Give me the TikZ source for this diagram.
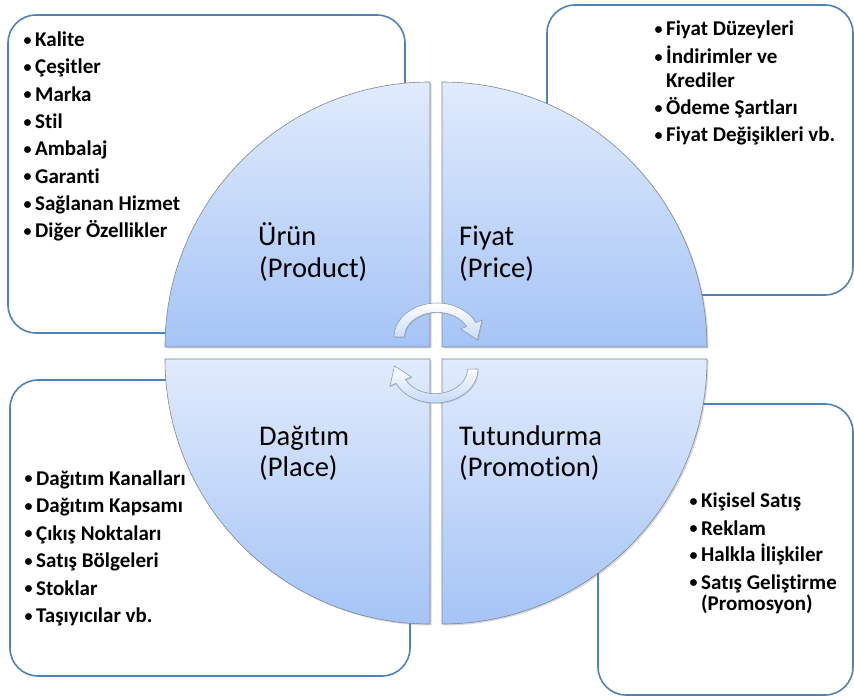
\documentclass[tikz,border=0pt]{standalone}
\usepackage{fontspec}
\setmainfont{Carlito}[Ligatures={NoCommon}]
\usetikzlibrary{shadows}

\definecolor{boxblue}{RGB}{79,129,189}
\definecolor{quadtop}{RGB}{224,235,252}
\definecolor{quadbot}{RGB}{165,196,246}
\definecolor{quadline}{RGB}{125,135,150}
\definecolor{arrowline}{RGB}{140,155,180}
\definecolor{arrowfill}{RGB}{200,218,248}

\newcommand{\itembul}{\raisebox{1.4pt}{\fontsize{16}{16}\selectfont\textbullet}\kern3.5pt}

\begin{document}
\begin{tikzpicture}[x=1pt, y=1pt,
    listbox/.style={draw=boxblue, line width=1.6pt, rounded corners=28pt},
    quad/.style={draw=quadline, line width=0.6pt, top color=quadtop, bottom color=quadbot,
        drop shadow={opacity=0.3, shadow xshift=1.5pt, shadow yshift=-1.5pt}},
    cyc/.style={draw=arrowline, line width=0.6pt, top color=white, bottom color=arrowfill,
        drop shadow={opacity=0.25, shadow xshift=1pt, shadow yshift=-1pt}},
    listitem/.style={anchor=base west, inner sep=0pt, font=\fontsize{21}{25}\selectfont\bfseries},
    pname/.style={anchor=base west, inner sep=0pt, font=\fontsize{28.5}{32}\selectfont}]
    \useasboundingbox (0,0) rectangle (854,697);

    % boxes
    \draw[listbox] (8,682) rectangle (405,364);
    \draw[listbox] (547,692) rectangle (853,402);
    \draw[listbox] (10,317) rectangle (410,21);
    \draw[listbox] (598,293) rectangle (853,2);

    % the four parts
    \draw[quad] (430,350) -- (165,350) arc (180:90:265pt) -- cycle;
    \draw[quad] (442,350) -- (442,615) arc (90:0:265pt) -- cycle;
    \draw[quad] (430,338) -- (430,73) arc (270:180:265pt) -- cycle;
    \draw[quad] (442,338) -- (707,338) arc (0:-90:265pt) -- cycle;

    % cycle arrows
    \foreach \cx/\cy/\r in {437/360/0, 435/328/180} {
        \begin{scope}[shift={(\cx,\cy)}, rotate=\r]
            \draw[cyc] (-43,0) arc[start angle=180, end angle=25, x radius=43pt, y radius=34pt]
                -- (45,17) -- (40.5,-3) -- (23.6,8.0) -- (29.5,10.5)
                arc[start angle=25, end angle=180, x radius=32.5pt, y radius=24.5pt] -- cycle;
        \end{scope}
    }

    \node[pname] (urun-a) at (258,451) {Ürün};
    \node[pname] (urun-b) at (259,419) {(Product)};
    \node[pname] (fiyat-a) at (459,451) {Fiyat};
    \node[pname] (fiyat-b) at (459,419) {(Price)};
    \node[pname] (dagitim-a) at (259,252) {Dağıtım};
    \node[pname] (dagitim-b) at (259,221) {(Place)};
    \node[pname] (tutundurma-a) at (459,252) {Tutundurma};
    \node[pname] (tutundurma-b) at (459,221) {(Promotion)};

    \foreach \t [count=\i] in {Kalite, Çeşitler, Marka, Stil, Ambalaj, Garanti, Sağlanan Hizmet, Diğer Özellikler}
        \node[listitem] (urun-\i) at (23.5, 677.6-27.3*\i) {\itembul\t};

    \node[listitem] (fiyat-1) at (654.5,661) {\itembul Fiyat Düzeyleri};
    \node[listitem] (fiyat-2) at (654.5,633) {\itembul İndirimler ve};
    \node[listitem] (fiyat-3) at (654.5,609.7) {\hphantom{\itembul}Krediler};
    \node[listitem] (fiyat-4) at (654.5,582) {\itembul Ödeme Şartları};
    \node[listitem] (fiyat-5) at (654.5,555.3) {\itembul Fiyat Değişikleri vb.};

    \foreach \t [count=\i] in {Dağıtım Kanalları, Dağıtım Kapsamı, Çıkış Noktaları, Satış Bölgeleri, Stoklar, Taşıyıcılar vb.}
        \node[listitem] (dagitim-\i) at (24.5, 239.5-27.5*\i) {\itembul\t};

    \node[listitem] (tutundurma-1) at (689.5,189.3) {\itembul Kişisel Satış};
    \node[listitem] (tutundurma-2) at (689.5,162) {\itembul Reklam};
    \node[listitem] (tutundurma-3) at (689.5,135.3) {\itembul Halkla İlişkiler};
    \node[listitem] (tutundurma-4) at (689.5,107.7) {\itembul Satış Geliştirme};
    \node[listitem] (tutundurma-5) at (689.5,87) {\hphantom{\itembul}(Promosyon)};
\end{tikzpicture}
\end{document}
